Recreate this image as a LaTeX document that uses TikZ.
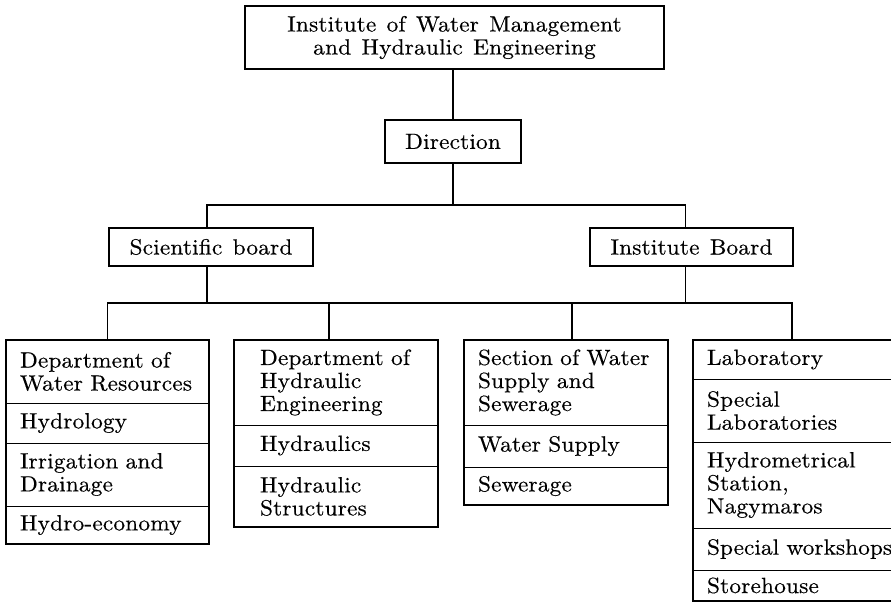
\documentclass[tikz,border=0pt]{standalone}
\usepackage{fontspec}
\newfontfamily\reffont{lmroman10-regular.otf}[FakeStretch=1.06,LetterSpace=0.8,WordSpace=1.3,FakeBold=0.4]
\newfontfamily\reftight{lmroman10-regular.otf}[FakeStretch=1.06,LetterSpace=0.2,WordSpace=1.1,FakeBold=0.4]
\usetikzlibrary{calc}
\begin{document}
\begin{tikzpicture}[x=1pt,y=-1pt,
  base/.style={font=\reffont\fontsize{22}{23}\selectfont},
  box/.style={base, draw, line width=1.7pt, inner sep=0pt, outer sep=0pt, align=center},
  sec/.style={base, draw, line width=0.9pt, inner sep=0pt, outer sep=0pt, align=left, text width=#1},
  ind/.style={execute at begin node={\leftskip=#1\relax}},
  ind/.default=14pt,
  tight/.style={font=\reftight\fontsize{22}{23}\selectfont},
  frame/.style={line width=1.7pt},
  conn/.style={line width=1.7pt}]
\useasboundingbox (0,0) rectangle (891,607);
\clip (0,0) rectangle (891,607);
\fill[white] (0,0) rectangle (891,607);

% upper levels
\node[box, minimum width=419, minimum height=63] (top) at (454.5,37.5) {Institute of Water Management\\and Hydraulic Engineering};
\node[box, minimum width=136, minimum height=43] (dir) at (453,141.5) {Direction};
\node[box, minimum width=204, minimum height=38] (sci) at (211,247) {Scientific board};
\node[box, minimum width=203, minimum height=38] (inst) at (691.5,247) {Institute Board};

% box 1
\node[sec=203, ind, minimum height=63, anchor=north west] (d1a) at (6,340) {Department of\\Water Resources};
\node[sec=203, ind, minimum height=40, anchor=north] (d1b) at (d1a.south) {Hydrology};
\node[sec=203, ind, minimum height=63, anchor=north] (d1c) at (d1b.south) {Irrigation and\\Drainage};
\node[sec=203, ind, minimum height=38, anchor=north] (d1d) at (d1c.south) {Hydro-economy};
\draw[frame] (d1a.north west) rectangle (d1d.south east);

% box 2
\node[sec=204, ind=26pt, minimum height=85, anchor=north west] (d2a) at (234,340) {Department of\\Hydraulic\\Engineering};
\node[sec=204, ind=26pt, minimum height=41, anchor=north] (d2b) at (d2a.south) {Hydraulics};
\node[sec=204, ind=26pt, minimum height=61, anchor=north] (d2c) at (d2b.south) {Hydraulic\\Structures};
\draw[frame] (d2a.north west) rectangle (d2c.south east);

% box 3
\node[sec=204, ind, minimum height=85, anchor=north west] (d3a) at (464,340) {Section of Water\\Supply and\\Sewerage};
\node[sec=204, ind, minimum height=42, anchor=north] (d3b) at (d3a.south) {Water Supply};
\node[sec=204, ind, minimum height=38, anchor=north] (d3c) at (d3b.south) {Sewerage};
\draw[frame] (d3a.north west) rectangle (d3c.south east);

% box 4 (runs past the right edge)
\node[sec=214, ind, minimum height=39, anchor=north west] (d4a) at (693,340) {Laboratory};
\node[sec=214, ind, minimum height=63, anchor=north] (d4b) at (d4a.south) {Special\\Laboratories};
\node[sec=214, ind, minimum height=86, anchor=north] (d4c) at (d4b.south) {Hydrometrical\\Station,\\Nagymaros};
\node[sec=214, ind, tight, minimum height=42, anchor=north] (d4d) at (d4c.south) {Special workshops};
\node[sec=214, ind, minimum height=31, anchor=north] (d4e) at (d4d.south) {Storehouse};
\draw[frame] (d4a.north west) rectangle (d4e.south east);

% connectors
\coordinate (bus1) at (0,205);
\coordinate (bus2) at (0,303);
\coordinate (sciT) at ($(sci.north)+(-4,0)$);
\coordinate (sciB) at ($(sci.south)+(-4,0)$);
\coordinate (instT) at ($(inst.north)+(-6,0)$);
\coordinate (instB) at ($(inst.south)+(-6,0)$);
\coordinate (d2T) at ($(d2a.north)+(-7,0)$);
\coordinate (d3T) at ($(d3a.north)+(6,0)$);
\coordinate (d4T) at ($(d4a.north west)+(99,0)$);
\draw[conn] (dir.north) -- (dir.north |- top.south);
\draw[conn] (dir.south) -- (dir.south |- bus1);
\draw[conn] (sciT) -- (sciT |- bus1) -- (instT |- bus1) -- (instT);
\draw[conn] (sciB) -- (sciB |- bus2);
\draw[conn] (instB) -- (instB |- bus2);
\draw[conn] (d1a.north) -- (d1a.north |- bus2) -- (d4T |- bus2) -- (d4T);
\draw[conn] (d2T) -- (d2T |- bus2);
\draw[conn] (d3T) -- (d3T |- bus2);
\end{tikzpicture}
\end{document}
